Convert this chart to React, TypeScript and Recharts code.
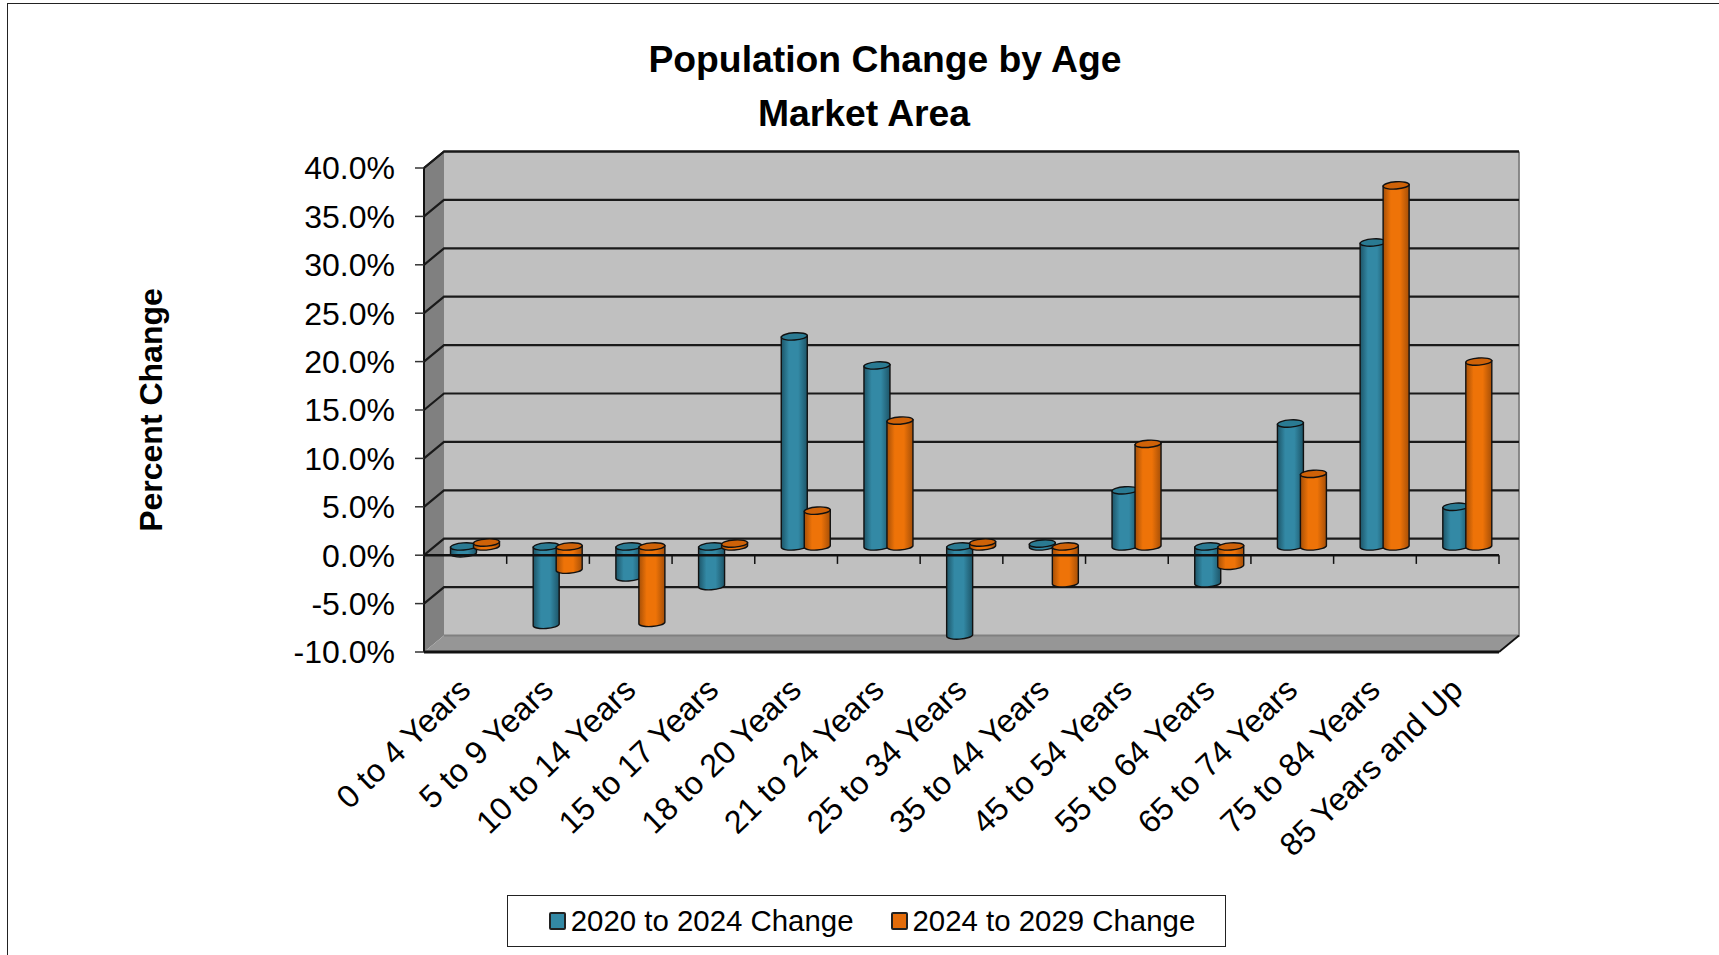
import { Bar, BarChart, CartesianGrid, Legend, ReferenceLine, XAxis, YAxis } from "recharts";

const categories = [
  "0 to 4 Years",
  "5 to 9 Years",
  "10 to 14 Years",
  "15 to 17 Years",
  "18 to 20 Years",
  "21 to 24 Years",
  "25 to 34 Years",
  "35 to 44 Years",
  "45 to 54 Years",
  "55 to 64 Years",
  "65 to 74 Years",
  "75 to 84 Years",
  "85 Years and Up",
];
const change2024 = [-0.7, -8.1, -3.2, -4.1, 21.7, 18.7, -9.2, 0.3, 5.8, -3.8, 12.7, 31.4, 4.1];
const change2029 = [0.4, -2.4, -7.9, 0.3, 3.7, 13, 0.4, -3.8, 10.6, -2, 7.5, 37.3, 19.1];
const yTicks = [-10, -5, 0, 5, 10, 15, 20, 25, 30, 35, 40];

const data = categories.map((name, i) => ({ name, a: change2024[i], b: change2029[i] }));

const FONT = '"Liberation Sans", Arial, sans-serif';
const TEAL = "#3389a5";
const ORANGE = "#ee7308";
// depth of the fake 3d box
const DX = 20;
const DY = -16.5;

function GridLine(props: any) {
  const { x1, x2, y1, index, x, y, width, height } = props;
  const walls =
    index === 0 ? (
      <g>
        <rect x={x + DX} y={y + DY} width={width} height={height} fill="#c0c0c0" />
        <polygon
          points={`${x},${y} ${x + DX},${y + DY} ${x + DX},${y + DY + height} ${x},${y + height}`}
          fill="#808080"
        />
        <polygon
          points={`${x},${y + height} ${x + DX},${y + DY + height} ${x + DX + width},${y + DY + height} ${x + width},${y + height}`}
          fill="#969696"
        />
        <path
          d={`M${x + DX + width},${y + DY} V${y + DY + height} H${x + DX}`}
          fill="none"
          stroke="#808080"
          strokeWidth={1.8}
        />
        <path
          d={`M${x},${y + height} V${y} L${x + DX},${y + DY} H${x + DX + width}`}
          fill="none"
          stroke="#111"
          strokeWidth={2}
        />
        <path
          d={`M${x + DX + width},${y + DY + height} L${x + width},${y + height}`}
          fill="none"
          stroke="#111"
          strokeWidth={1.8}
        />
      </g>
    ) : null;
  const isFloor = y1 >= y + height - 1;
  return (
    <g>
      {walls}
      {!isFloor && (
        <path
          d={`M${x1},${y1} L${x1 + DX},${y1 + DY} H${x2 + DX}`}
          fill="none"
          stroke="#1a1a1a"
          strokeWidth={2.2}
        />
      )}
    </g>
  );
}

function Cylinder(props: any) {
  const { x, y, width, height, gradient, cap } = props;
  const h = Math.abs(height);
  const top = (height < 0 ? y + height : y) + DY / 2 - 0.5;
  const bottom = top + h;
  const left = x + DX / 2 - 0.5;
  const rx = width / 2;
  const ry = 3.6;
  const cx = left + rx;
  return (
    <g stroke="#111" strokeWidth={1.4}>
      <path
        d={`M${left},${top + 0.8} V${bottom + 0.8} A${rx},${ry} -4 0 0 ${left + width},${bottom - 0.8} V${top - 0.8} Z`}
        fill={`url(#${gradient})`}
      />
      <ellipse cx={cx} cy={top} rx={rx} ry={ry} fill={cap} transform={`rotate(-4 ${cx} ${top})`} />
    </g>
  );
}

function AngledTick(props: any) {
  const { x, y, payload } = props;
  const tx = x + 7;
  const ty = y + 32;
  return (
    <text
      x={tx}
      y={ty}
      textAnchor="end"
      fontFamily={FONT}
      fontSize={32.3}
      fill="#000"
      transform={`rotate(-44 ${tx} ${ty})`}
    >
      {payload.value}
    </text>
  );
}

function LegendBox() {
  const items = [
    { label: "2020 to 2024 Change", color: TEAL },
    { label: "2024 to 2029 Change", color: "#e46c0a" },
  ];
  return (
    <div
      style={{
        boxSizing: "border-box",
        width: 719,
        height: 52,
        paddingLeft: 11,
        border: "1px solid #222",
        display: "flex",
        justifyContent: "center",
        alignItems: "center",
        gap: 37,
        fontFamily: FONT,
        fontSize: 29.4,
        color: "#000",
        background: "#fff",
      }}
    >
      {items.map((it) => (
        <span key={it.label} style={{ display: "flex", alignItems: "center", gap: 5 }}>
          <span
            style={{
              width: 13,
              height: 14,
              background: it.color,
              border: "2px solid #222",
              borderRadius: 2,
            }}
          />
          {it.label}
        </span>
      ))}
    </div>
  );
}

export default function App() {
  return (
    <div
      style={{
        position: "fixed",
        left: 0,
        top: 0,
        width: 1719,
        height: 955,
        background: "#fff",
        overflow: "hidden",
      }}
    >
      <div
        style={{
          position: "absolute",
          left: 7,
          top: 3,
          right: 0,
          bottom: 0,
          borderLeft: "1px solid #222",
          borderTop: "1px solid #222",
        }}
      />
      <BarChart
        width={1719}
        height={955}
        data={data}
        margin={{ top: 168, right: 220, bottom: 0, left: 0 }}
        barSize={26}
        barGap={-3}
        style={{ position: "absolute", left: 0, top: 0 }}
      >
        <defs>
          <linearGradient id="tealBody" x1="0" y1="0" x2="1" y2="0">
            <stop offset="0" stopColor="#1d5568" />
            <stop offset="0.3" stopColor={TEAL} />
            <stop offset="0.65" stopColor={TEAL} />
            <stop offset="1" stopColor="#1d5568" />
          </linearGradient>
          <linearGradient id="orangeBody" x1="0" y1="0" x2="1" y2="0">
            <stop offset="0" stopColor="#a64f07" />
            <stop offset="0.3" stopColor={ORANGE} />
            <stop offset="0.65" stopColor={ORANGE} />
            <stop offset="1" stopColor="#a64f07" />
          </linearGradient>
        </defs>
        <text x={885} y={72} textAnchor="middle" fontFamily={FONT} fontWeight="bold" fontSize={37.3} fill="#000">
          Population Change by Age
        </text>
        <text x={864} y={126} textAnchor="middle" fontFamily={FONT} fontWeight="bold" fontSize={37.3} fill="#000">
          Market Area
        </text>
        <CartesianGrid vertical={false} horizontal={GridLine} />
        <XAxis dataKey="name" interval={0} height={251} axisLine={{ stroke: "#111", strokeWidth: 3 }} tickLine={false} tick={AngledTick} />
        <YAxis
          domain={[-10, 40]}
          ticks={yTicks}
          interval={0}
          width={424}
          tickSize={9}
          tickMargin={20}
          tickFormatter={(v: number) => `${v.toFixed(1)}%`}
          tick={{ fontFamily: FONT, fontSize: 32, fill: "#000" }}
          axisLine={{ stroke: "#111", strokeWidth: 2 }}
          tickLine={{ stroke: "#333", strokeWidth: 1.5 }}
          label={{
            value: "Percent Change",
            angle: -90,
            position: "insideLeft",
            offset: 151,
            style: { fontFamily: FONT, fontWeight: "bold", fontSize: 32, fill: "#000", textAnchor: "middle" },
          }}
        />
        <ReferenceLine y={0} stroke="#111" strokeWidth={2.5} />
        {categories.map((c) => (
          <ReferenceLine
            key={c}
            segment={[
              { x: c, y: 0 },
              { x: c, y: -0.9 },
            ]}
            position="end"
            stroke="#111"
            strokeWidth={1.5}
          />
        ))}
        <Bar
          dataKey="a"
          name="2020 to 2024 Change"
          fill={TEAL}
          isAnimationActive={false}
          shape={(p: any) => <Cylinder {...p} gradient="tealBody" cap="#2a7a92" />}
        />
        <Bar
          dataKey="b"
          name="2024 to 2029 Change"
          fill={ORANGE}
          isAnimationActive={false}
          shape={(p: any) => <Cylinder {...p} gradient="orangeBody" cap="#cf6208" />}
        />
        <Legend
          content={<LegendBox />}
          wrapperStyle={{ position: "absolute", left: 507, top: 895, width: 719, bottom: "auto" }}
        />
      </BarChart>
    </div>
  );
}
